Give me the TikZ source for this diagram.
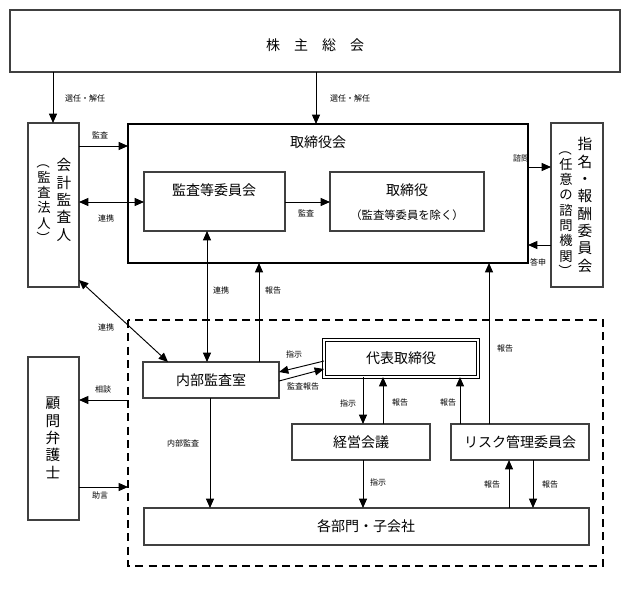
\documentclass[tikz,border=0pt]{standalone}
\usepackage{fontspec}
\setmainfont{Noto Sans CJK JP}
\usetikzlibrary{arrows.meta}
\newcommand{\vp}[1]{\rotatebox[origin=c]{-90}{#1}}
\begin{document}
\begin{tikzpicture}[x=0.75pt,y=-0.75pt,
  bx/.style={draw=black!75,line width=0.8pt},
  big/.style={font=\fontsize{10.5}{12}\selectfont},
  sm/.style={font=\fontsize{6}{7}\selectfont},
  ar/.style={-{Triangle[length=7pt,width=6pt]},line width=0.7pt},
  dar/.style={{Triangle[length=7pt,width=6pt]}-{Triangle[length=7pt,width=6pt]},line width=0.7pt},
  vt/.style={align=center,inner sep=0pt,font=\fontsize{11}{13}\selectfont},
  vs/.style={align=center,inner sep=0pt,font=\fontsize{10}{11.5}\selectfont}]
\useasboundingbox (0,0) rectangle (630,588);
% boxes
\draw[bx,line width=1.2pt] (10,10) rectangle (620,72);
\node[big] (kabu) at (315,45) {株　主　総　会};
\draw[bx] (28,123) rectangle (79,287);
\coordinate (kaikei) at (53,123);
\node[vt] at (64,200) {会\\計\\監\\査\\人};
\node[vs] at (44,200) {\vp{（}\\監\\査\\法\\人\\\vp{）}};
\draw[line width=1.6pt] (128,124) rectangle (528,263);
\node[big] at (318,142) {取締役会};
\draw[bx] (144,172) rectangle (285,231);
\node[big] at (214,190) {監査等委員会};
\draw[bx] (330,172) rectangle (484,231);
\node[big] at (407,190) {取締役};
\node[font=\fontsize{8.5}{10}\selectfont] at (407,215) {（監査等委員を除く）};
\draw[bx] (551,123) rectangle (603,287);
\node[vt] at (585,205) {指\\名\\・\\報\\酬\\委\\員\\会};
\node[vs] at (566,210) {\vp{（}\\任\\意\\の\\諮\\問\\機\\関\\\vp{）}};
\draw[line width=0.9pt,dash pattern=on 6pt off 4pt] (128,320) rectangle (603,566);
\draw[bx] (28,357) rectangle (79,520);
\node[vt] at (53,438) {顧\\問\\弁\\護\\士};
\draw[bx] (143,362) rectangle (279,398);
\node[big] at (211,380) {内部監査室};
\draw[line width=0.8pt,double=white,double distance=1.5pt] (324,340) rectangle (478,377);
\node[big] at (401,358) {代表取締役};
\draw[bx] (292,424) rectangle (430,460);
\node[big] at (361,442) {経営会議};
\draw[bx] (451,424) rectangle (589,460);
\node[big] at (520,442) {リスク管理委員会};
\draw[bx] (144,508) rectangle (589,545);
\node[big] at (366,526) {各部門・子会社};
% arrows
\draw[ar] (53,72) -- (53,123); \node[sm] at (85,98) {選任・解任};
\draw[ar] (316,72) -- (316,124); \node[sm] at (350,98) {選任・解任};
\draw[ar] (79,146) -- (128,146); \node[sm] at (100,135) {監査};
\draw[dar] (79,202) -- (144,202); \node[sm] at (106,218) {連携};
\draw[ar] (285,202) -- (330,202); \node[sm] at (306,213) {監査};
\draw[ar] (528,167) -- (551,167); \node[sm] at (521,158) {諮問};
\draw[ar] (551,245) -- (528,245); \node[sm] at (538,262) {答申};
\draw[dar] (207,231) -- (207,362); \node[sm] at (221,290) {連携};
\draw[ar] (259,362) -- (259,263); \node[sm] at (273,290) {報告};
\draw[dar] (79,280) -- (168,362); \node[sm] at (106,327) {連携};
\draw[ar] (324,361) -- (279,372); \node[sm] at (294,354) {指示};
\draw[ar] (279,381) -- (324,369); \node[sm] at (303,386) {監査報告};
\draw[ar] (363,377) -- (363,424); \node[sm] at (348,403) {指示};
\draw[ar] (383,424) -- (383,377); \node[sm] at (400,402) {報告};
\draw[ar] (460,424) -- (460,377); \node[sm] at (448,402) {報告};
\draw[ar] (489,424) -- (489,263); \node[sm] at (505,348) {報告};
\draw[ar] (210,398) -- (210,508); \node[sm] at (183,443) {内部監査};
\draw[ar] (363,460) -- (363,508); \node[sm] at (378,482) {指示};
\draw[ar] (509,508) -- (509,460); \node[sm] at (492,484) {報告};
\draw[ar] (533,460) -- (533,508); \node[sm] at (550,484) {報告};
\draw[ar] (128,400) -- (79,400); \node[sm] at (103,389) {相談};
\draw[ar] (79,487) -- (128,487); \node[sm] at (100,495) {助言};
\end{tikzpicture}
\end{document}
